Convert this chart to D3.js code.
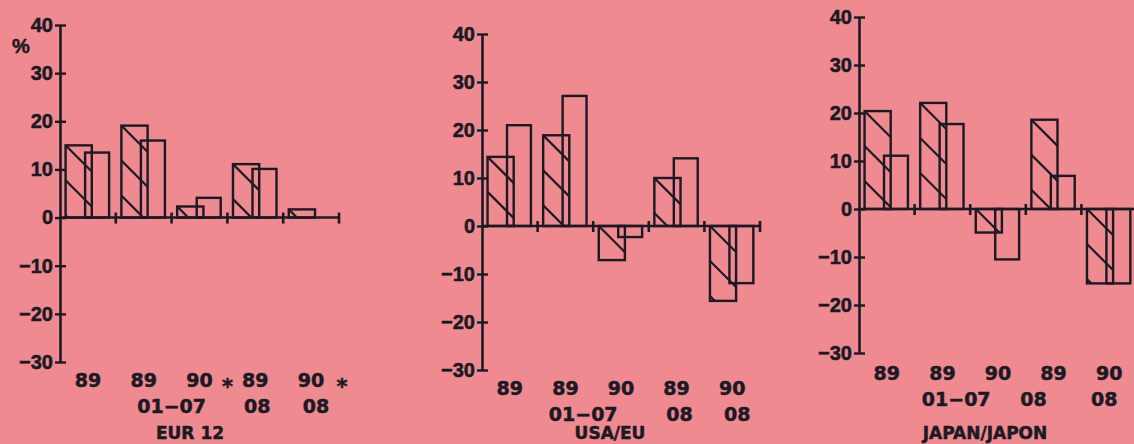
<!DOCTYPE html>
<html>
<head>
<meta charset="utf-8">
<script src="https://cdn.jsdelivr.net/npm/d3@7"></script>
<style>
  html, body { margin: 0; padding: 0; background: #ee8a90; }
  svg { display: block; }
</style>
</head>
<body>
<svg id="chart" width="1134" height="444"></svg>
<script>
// ---------- DATA ----------
const groups = ["89", "89 01-07", "90 01-07", "89 08", "90 08"];
const tickRow1 = ["89", "89", "90", "89", "90"];
const tickRow2 = ["01\u221207", "08", "08"];
const yTicks = [-30, -20, -10, 0, 10, 20, 30, 40];

const eurHatched = [15.0, 19.1, 2.3, 11.1, 1.7];
const eurPlain   = [13.5, 16.0, 4.1, 10.1, null];
const usaHatched = [14.4, 18.9, -7.1, 10.0, -15.6];
const usaPlain   = [21.0, 27.1, -2.3, 14.1, -11.9];
const jpnHatched = [20.4, 22.1, -4.9, 18.6, -15.5];
const jpnPlain   = [11.1, 17.7, -10.5, 6.9, -15.5];

const titles = ["EUR 12", "USA/EU", "JAPAN/JAPON"];

// ---------- LAYOUT ----------
const layout = [
  { x0: 60,  x1: 339,  yTop: 25, yBot: 362, pct: true,  star: true,  row2Shift: [0, 2, 5],     titleX: 190, titleY: 439, rowGap: 25 },
  { x0: 482, x1: 760,  yTop: 34, yBot: 370, pct: false, star: false, row2Shift: [-10, 3, 5],   titleX: 610, titleY: 439, rowGap: 25 },
  { x0: 859, x1: 1137, yTop: 17, yBot: 353, pct: false, star: false, row2Shift: [-14, -20, -5], titleX: 985, titleY: 439, rowGap: 27 }
];
const seriesH = [eurHatched, usaHatched, jpnHatched];
const seriesP = [eurPlain, usaPlain, jpnPlain];

const ink = "#1b1a24";
const svg = d3.select("#chart");

function heavy(sel) {
  return sel.attr("fill", ink).attr("stroke", ink).attr("stroke-width", 0.5)
    .style("font-weight", "bold");
}

layout.forEach((L, pi) => {
  const g = svg.append("g");
  const y = d3.scaleLinear().domain([-30, 40]).range([L.yBot, L.yTop]);
  const x = d3.scaleBand().domain(groups).range([L.x0, L.x1]).padding(0);
  const bw = x.bandwidth();
  const y0 = y(0);

  // bars
  const hat = seriesH[pi], pl = seriesP[pi];
  groups.forEach((grp, i) => {
    const gx = x(grp);
    const hv = hat[i];
    if (hv != null) {
      const bx = gx + bw * 0.10, bwid = bw * 0.47;
      const top = Math.min(y(hv), y0), h = Math.abs(y(hv) - y0);
      const cid = `clip-${pi}-${i}`;
      g.append("clipPath").attr("id", cid)
        .append("rect").attr("x", bx).attr("y", top).attr("width", bwid).attr("height", h);
      const spacing = 35;
      const hg = g.append("g").attr("clip-path", `url(#${cid})`);
      for (let k = -2; k * spacing < h + bwid; k++) {
        const sy = top + k * spacing;
        hg.append("line")
          .attr("x1", bx).attr("y1", sy)
          .attr("x2", bx + 200).attr("y2", sy + 200)
          .attr("stroke", ink).attr("stroke-width", 2.2);
      }
      g.append("rect").attr("x", bx).attr("y", top).attr("width", bwid).attr("height", h)
        .attr("fill", "none").attr("stroke", ink).attr("stroke-width", 2.4);
    }
    const pv = pl[i];
    if (pv != null) {
      const bx = gx + bw * 0.45, bwid = bw * 0.43;
      const top = Math.min(y(pv), y0), h = Math.abs(y(pv) - y0);
      g.append("rect").attr("x", bx).attr("y", top).attr("width", bwid).attr("height", h)
        .attr("fill", "none").attr("stroke", ink).attr("stroke-width", 2.4);
    }
  });

  // y axis
  const yAxis = g.append("g").attr("transform", `translate(${L.x0},0)`)
    .call(d3.axisLeft(y).tickValues(yTicks).tickSize(5).tickSizeOuter(0).tickPadding(2));
  yAxis.select(".domain").attr("stroke", ink).attr("stroke-width", 2.6);
  yAxis.selectAll(".tick line").attr("stroke", ink).attr("stroke-width", 2.4).attr("x2", -5).attr("x1", 6);
  heavy(yAxis.selectAll(".tick text"))
    .style("font-family", "'Liberation Sans', Arial, sans-serif")
    .style("font-size", "20px");

  // x axis at zero
  g.append("line").attr("x1", L.x0).attr("x2", L.x1).attr("y1", y0).attr("y2", y0)
    .attr("stroke", ink).attr("stroke-width", 2.6);
  groups.forEach((grp) => {
    const bx = x(grp) + bw;
    g.append("line").attr("x1", bx).attr("x2", bx).attr("y1", y0 - 5).attr("y2", y0 + 6)
      .attr("stroke", ink).attr("stroke-width", 2.6);
  });

  const lblFont = "'DejaVu Sans', Verdana, sans-serif";
  const row1 = L.yBot + L.rowGap;
  const row2 = row1 + 26;
  groups.forEach((grp, i) => {
    heavy(g.append("text").attr("x", x(grp) + bw / 2).attr("y", row1)
      .attr("text-anchor", "middle"))
      .style("font-family", lblFont).style("font-size", "19px")
      .text(tickRow1[i]);
  });
  const row2X = [x(groups[2]), x(groups[3]) + bw / 2, x(groups[4]) + bw / 2];
  tickRow2.forEach((t, j) => {
    heavy(g.append("text").attr("x", row2X[j] + L.row2Shift[j]).attr("y", row2)
      .attr("text-anchor", "middle"))
      .style("font-family", lblFont).style("font-size", "19px")
      .text(t);
  });
  if (L.star) {
    [x(groups[3]), x(groups[4]) + bw + 3].forEach(sx => {
      heavy(g.append("text").attr("x", sx).attr("y", row1 + 7)
        .attr("text-anchor", "middle"))
        .style("font-family", lblFont).style("font-size", "21px")
        .text("*");
    });
  }
  heavy(g.append("text").attr("x", L.titleX).attr("y", L.titleY)
    .attr("text-anchor", "middle"))
    .style("font-family", lblFont).style("font-size", "17px")
    .text(titles[pi]);
  if (L.pct) {
    heavy(g.append("text").attr("x", 12).attr("y", 53))
      .style("font-family", "'Liberation Sans', Arial, sans-serif").style("font-size", "20px")
      .text("%");
  }
});
</script>
</body>
</html>
